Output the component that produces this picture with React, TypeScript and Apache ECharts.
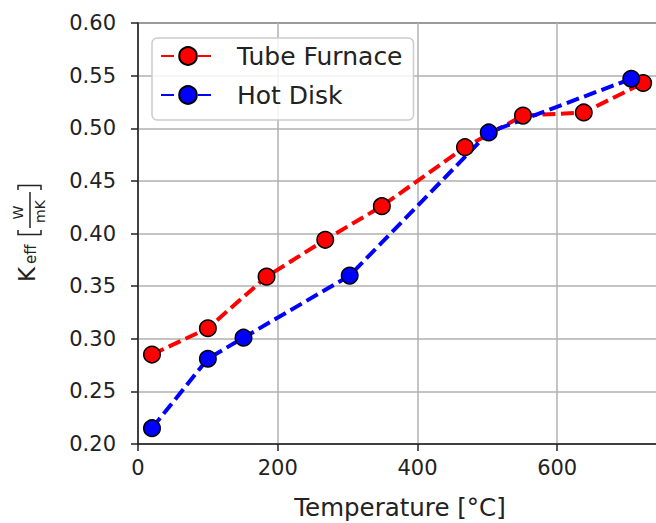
import React, { useEffect, useRef } from "react";
import * as echarts from "echarts";

const tubeTemps = [20, 100, 184, 268, 349, 468, 551, 638, 723];
const tubeK = [0.285, 0.31, 0.359, 0.394, 0.426, 0.482, 0.512, 0.515, 0.543];
const diskTemps = [20, 100, 151, 303, 502, 706];
const diskK = [0.215, 0.281, 0.301, 0.36, 0.496, 0.547];
const seriesNames = ["Tube Furnace", "Hot Disk"];
const xLabel = "Temperature [°C]";

const FONT = "DejaVu Sans";
const TXT = "#222222";

export default function App() {
  const ref = useRef<HTMLDivElement>(null);
  useEffect(() => {
    if (!ref.current) return;
    const chart = echarts.init(ref.current, undefined, { renderer: "svg" });
    const mk = (name: string, xs: number[], ys: number[], color: string) => ({
      name,
      type: "line",
      data: xs.map((x, i) => [x, ys[i]]),
      symbol: "circle",
      symbolSize: 16.5,
      itemStyle: { color, borderColor: "#000", borderWidth: 1.5 },
      lineStyle: { color, width: 4, type: [13, 5.5] },
      emphasis: { disabled: true },
      clip: false,
    });
    chart.setOption({
      animation: false,
      textStyle: { fontFamily: FONT },
      grid: {
        left: 138,
        top: 23,
        width: 524,
        height: 421,
        outerBoundsMode: "none",
        containLabel: false,
        show: true,
        borderColor: "#222",
        borderWidth: 1.5,
        backgroundColor: "transparent",
      },
      legend: {
        orient: "vertical",
        left: 152,
        top: 38,
        padding: [5, 11, 12, 8],
        itemWidth: 54,
        itemHeight: 22,
        itemGap: 13,
        backgroundColor: "rgba(255,255,255,0.85)",
        borderColor: "#cccccc",
        borderWidth: 1.5,
        borderRadius: 5,
        textStyle: {
          fontFamily: FONT,
          fontSize: 25,
          color: TXT,
          lineHeight: 26,
          padding: [0, 0, 0, 17],
        },
        data: seriesNames,
      },
      xAxis: {
        type: "value",
        min: 0,
        max: 750,
        interval: 200,
        name: xLabel,
        nameLocation: "middle",
        nameGap: 52,
        nameTextStyle: { fontFamily: FONT, fontSize: 24.5, lineHeight: 22, color: TXT },
        axisLine: { show: true, onZero: false, lineStyle: { color: "#222", width: 1.5 } },
        axisTick: { show: true, length: 7, lineStyle: { color: "#222", width: 1.5 } },
        axisLabel: {
          fontFamily: FONT,
          fontSize: 21,
          color: TXT,
          margin: 13,
          showMaxLabel: false,
          formatter: (v: number) => (v % 200 === 0 ? String(v) : ""),
        },
        splitLine: { show: true, lineStyle: { color: "#b0b0b0", width: 1.5 } },
      },
      yAxis: {
        type: "value",
        min: 0.2,
        max: 0.6,
        interval: 0.05,
        axisLine: { show: true, onZero: false, lineStyle: { color: "#222", width: 1.5 } },
        axisTick: { show: true, length: 7, lineStyle: { color: "#222", width: 1.5 } },
        axisLabel: {
          fontFamily: FONT,
          fontSize: 21,
          color: TXT,
          margin: 22,
          formatter: (v: number) => v.toFixed(2),
        },
        splitLine: { show: true, lineStyle: { color: "#b0b0b0", width: 1.5 } },
      },
      graphic: [
        {
          type: "text",
          x: 26.5,
          y: 282,
          rotation: Math.PI / 2,
          style: { text: "K", font: `23px '${FONT}'`, fill: TXT, align: "left", verticalAlign: "middle" },
        },
        {
          type: "text",
          x: 31,
          y: 264,
          rotation: Math.PI / 2,
          style: { text: "eff", font: `15px '${FONT}'`, fill: TXT, align: "left", verticalAlign: "middle" },
        },
        {
          type: "polyline",
          shape: { points: [[18, 230], [18, 234.5], [41, 234.5], [41, 230]] },
          style: { stroke: TXT, lineWidth: 1.5, fill: "none" },
        },
        {
          type: "polyline",
          shape: { points: [[18, 190], [18, 185.5], [41, 185.5], [41, 190]] },
          style: { stroke: TXT, lineWidth: 1.5, fill: "none" },
        },
        {
          type: "line",
          shape: { x1: 30, y1: 192, x2: 30, y2: 228 },
          style: { stroke: TXT, lineWidth: 1.5 },
        },
        {
          type: "text",
          x: 18,
          y: 212.5,
          rotation: Math.PI / 2,
          style: { text: "W", font: `14px '${FONT}'`, fill: TXT, align: "center", verticalAlign: "middle" },
        },
        {
          type: "text",
          x: 39.5,
          y: 211.5,
          rotation: Math.PI / 2,
          style: { text: "mK", font: `14px '${FONT}'`, fill: TXT, align: "center", verticalAlign: "middle" },
        },
      ],
      series: [
        mk(seriesNames[0], tubeTemps, tubeK, "#ff0000"),
        mk(seriesNames[1], diskTemps, diskK, "#0000ff"),
      ],
    });
    return () => chart.dispose();
  }, []);
  return (
    <div
      ref={ref}
      style={{ position: "fixed", left: 0, top: 0, width: 656, height: 523, background: "#fff" }}
    />
  );
}
